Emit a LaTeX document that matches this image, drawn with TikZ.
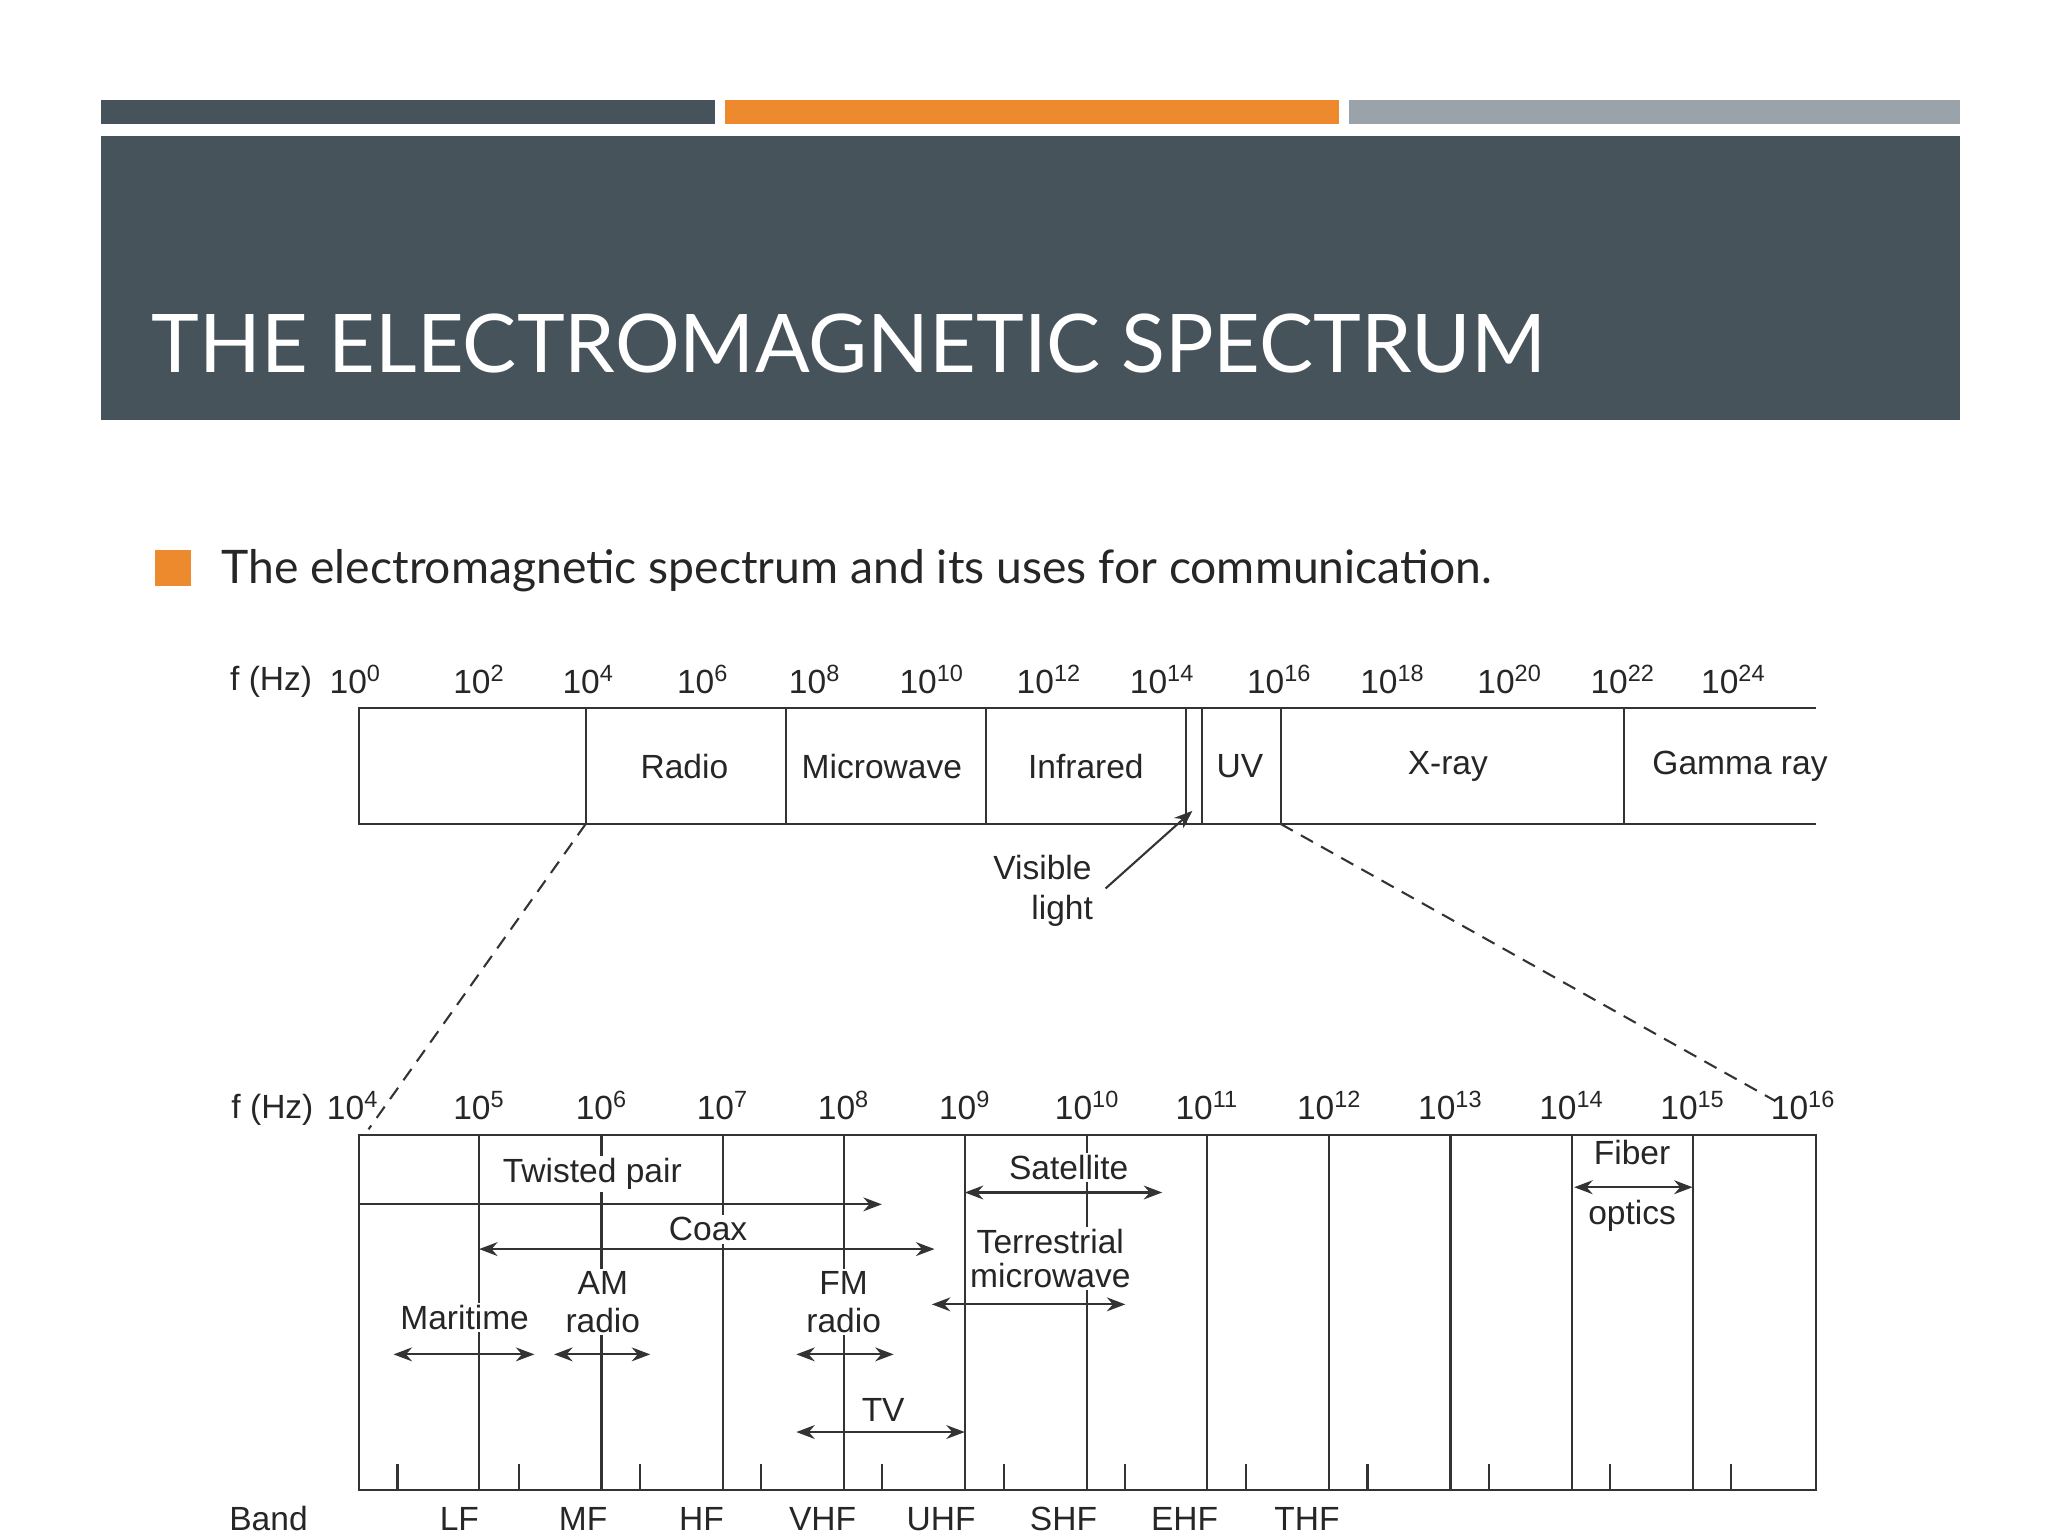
\documentclass[tikz,border=0pt]{standalone}
\usepackage{fontspec}
\setmainfont{Liberation Sans}
\newfontfamily\titlefont{Lato}
\usetikzlibrary{arrows.meta}
\definecolor{slate}{HTML}{47535B}
\definecolor{orng}{HTML}{EE8A2E}
\definecolor{lgray}{HTML}{9BA3AA}
\tikzset{
  lbl/.style={font=\fontsize{14.5}{16}\selectfont, inner sep=1pt, text=black!85},
  wlbl/.style={lbl, fill=white},
  ln/.style={line width=0.9pt, black!80},
  dbl/.style={ln, {Stealth[length=8pt,width=6pt]}-{Stealth[length=8pt,width=6pt]}},
  one/.style={ln, -{Stealth[length=8pt,width=6pt]}},
}
\begin{document}
\begin{tikzpicture}[x=0.02cm,y=-0.02cm]
\useasboundingbox (0,0) rectangle (1556,1167);
% header
\fill[slate] (77,76) rectangle (543,94);
\fill[orng] (551,76) rectangle (1017,94);
\fill[lgray] (1025,76) rectangle (1489,94);
\fill[slate] (77,103) rectangle (1489,319);
\node[anchor=base west, text=white, font=\titlefont\fontsize{35}{40}\selectfont, inner sep=0] (title) at (115,283) {THE ELECTROMAGNETIC SPECTRUM};
\fill[orng] (118,418) rectangle (145,445);
\node[anchor=base west, font=\titlefont\fontsize{20}{24}\selectfont, inner sep=0, text=black!85] (bul) at (168,443) {The electromagnetic spectrum and its uses for communication.};
% upper spectrum
\draw[ln] (1380,538) -- (273,538) -- (273,626) -- (1380,626);
\foreach \x in {445,597,749,901,913,973,1234} \draw[ln] (\x,538) -- (\x,626);
\foreach \t/\x in {Radio/520,Microwave/670,Infrared/825,UV/942,X-ray/1100,Gamma ray/1322}
  \node[lbl] at (\x,582) {\t};
\node[lbl] at (206,518) {f (Hz)};
\foreach \e/\x in {0/270,2/364,4/447,6/534,8/619,10/708,12/797,14/883,16/972,18/1058,20/1147,22/1233,24/1317}
  \node[lbl] at (\x,516) {10\textsuperscript{\e}};
\node[lbl] (vis) at (792,659) {Visible};
\node[lbl] (lig) at (807,692) {light};
\coordinate (vl) at (906,616);
\draw[one] (840,675) -- (vl);
% dashed zoom lines
\draw[ln, dashed, dash pattern=on 6pt off 4pt] (445,626) -- (280,858);
\draw[ln, dashed, dash pattern=on 6pt off 4pt] (973,626) -- (1348,836);
% lower box
\draw[ln] (273,862) rectangle (1380,1132);
\foreach \x in {364,457,549,641,733,826,917,1010,1102,1194,1286} \draw[ln] (\x,862) -- (\x,1132);
\foreach \x in {302,394,486,578,670,763,855,947,1039,1131,1223,1315} \draw[ln] (\x,1112) -- (\x,1132);
\node[lbl] at (207,843) {f (Hz)};
\foreach \e/\x in {4/268,5/364,6/457,7/549,8/641,9/733,10/826,11/917,12/1010,13/1102,14/1194,15/1286,16/1370}
  \node[lbl] at (\x,840) {10\textsuperscript{\e}};
\foreach \t/\x in {Band/204,LF/349,MF/443,HF/533,VHF/625,UHF/715,SHF/808,EHF/900,THF/993}
  \node[lbl] at (\x,1154) {\t};
% arrows
\draw[one] (273,915) -- (670,915);
\node[wlbl] at (450,892) {Twisted pair};
\draw[dbl] (364,949) -- (710,949);
\node[wlbl] at (538,934) {Coax};
\draw[dbl] (733,906) -- (883,906);
\node[wlbl] at (812,887) {Satellite};
\draw[dbl] (708,991) -- (855,991);
\node[wlbl, align=center, font=\fontsize{14.5}{16.5}\selectfont] at (798,956) {Terrestrial\\[-2pt]microwave};
\draw[dbl] (299,1029) -- (406,1029);
\node[wlbl] at (353,1001) {Maritime};
\draw[dbl] (421,1029) -- (494,1029);
\node[wlbl, align=center, font=\fontsize{14.5}{16.5}\selectfont] at (458,989) {AM\\radio};
\draw[dbl] (605,1029) -- (679,1029);
\node[wlbl, align=center, font=\fontsize{14.5}{16.5}\selectfont] at (641,989) {FM\\radio};
\draw[dbl] (605,1088) -- (733,1088);
\node[wlbl] at (671,1071) {TV};
\draw[dbl] (1196,902) -- (1286,902);
\node[wlbl] at (1240,876) {Fiber};
\node[wlbl] at (1240,924) {optics};
\end{tikzpicture}
\end{document}
